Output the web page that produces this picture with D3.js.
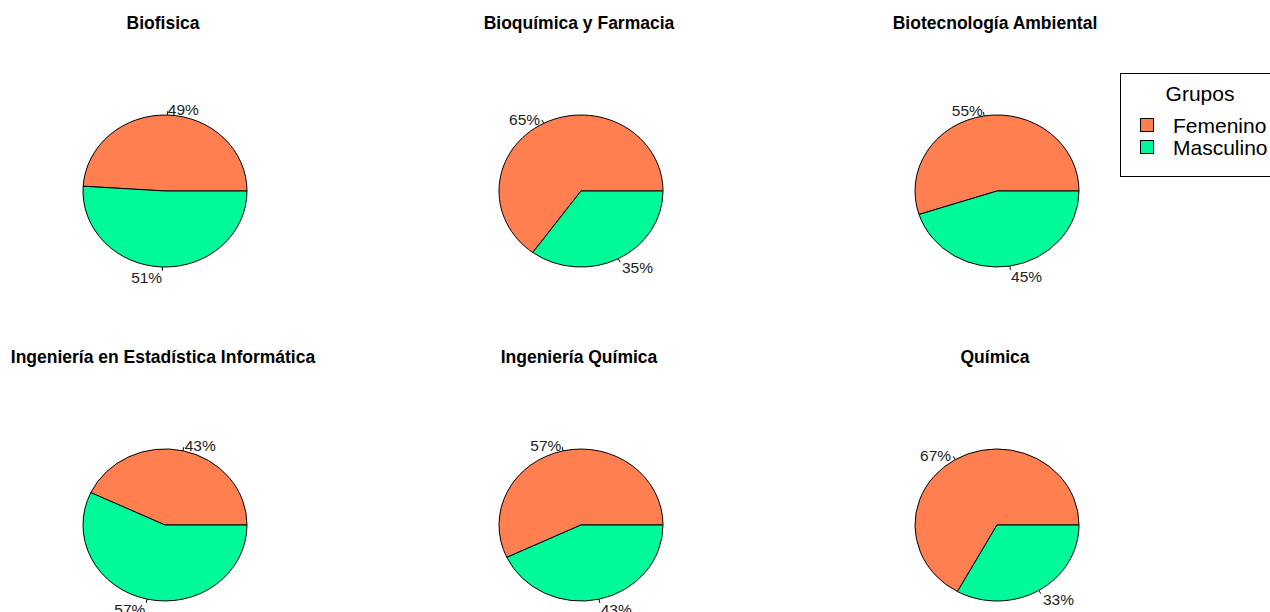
<!DOCTYPE html>
<html><head><meta charset="utf-8">
<script src="https://cdn.jsdelivr.net/npm/d3@7"></script>
<style>body{margin:0;background:#fff}svg{display:block}</style>
</head><body>
<script>
const carreras = ["Biofisica","Bioquímica y Farmacia","Biotecnología Ambiental","Ingeniería en Estadística Informática","Ingeniería Química","Química"];
const grupos = ["Femenino","Masculino"];
const femenino = [49,65,55,43,57,67];
const masculino = [51,35,45,57,43,33];
const colores = ["#FF7F50","#00FA9A"];

const W=1270,H=612;
const svg=d3.select("body").append("svg").attr("width",W).attr("height",H);
const font="Liberation Sans, Arial, sans-serif";
const colX=d3.scaleLinear().domain([0,2]).range([165,997]);
const rowY=d3.scaleLinear().domain([0,1]).range([191,525]);
const rx=82, ry=76;
const color=d3.scaleOrdinal().domain(grupos).range(colores);
const pie=d3.pie().sort(null).value(d=>d.v).startAngle(Math.PI/2).endAngle(Math.PI/2-2*Math.PI);
const arc=d3.arc().innerRadius(0).outerRadius(1);

carreras.forEach((c,i)=>{
  const cx=colX(i%3), cy=rowY(Math.floor(i/3));
  const g=svg.append("g");
  g.append("text").attr("x",cx-2).attr("y",cy-162).attr("text-anchor","middle")
    .attr("font-family",font).attr("font-weight","bold").attr("font-size",17.5).attr("fill","#000").text(c);
  const data=[{k:grupos[0],v:femenino[i]},{k:grupos[1],v:masculino[i]}];
  const arcs=pie(data);
  const pg=g.append("g").attr("transform",`translate(${cx},${cy}) scale(${rx},${ry})`);
  pg.selectAll("path").data(arcs).join("path").attr("d",arc)
    .attr("fill",d=>color(d.data.k)).attr("stroke","#000").attr("stroke-width",1)
    .attr("vector-effect","non-scaling-stroke");
  arcs.forEach(a=>{
    const m=(a.startAngle+a.endAngle)/2;
    const sx=Math.sin(m), sy=-Math.cos(m);
    g.append("line").attr("x1",cx+sx*rx).attr("y1",cy+sy*ry).attr("x2",cx+sx*rx*1.05).attr("y2",cy+sy*ry*1.05)
      .attr("stroke","#000").attr("stroke-width",1);
    g.append("text").attr("x",cx+sx*rx*1.1).attr("y",cy+sy*ry*1.1+2.5)
      .attr("text-anchor",sx>=0?"start":"end").attr("dominant-baseline","central")
      .attr("font-family",font).attr("font-size",15.5).attr("fill","#222")
      .text(a.data.v+"%");
  });
});

// legend
const lg=svg.append("g");
lg.append("rect").attr("x",1120.5).attr("y",73.5).attr("width",170).attr("height",103).attr("fill","#fff").attr("stroke","#000");
lg.append("text").attr("x",1200).attr("y",101).attr("text-anchor","middle").attr("font-family",font).attr("font-size",21).text("Grupos");
grupos.forEach((gname,j)=>{
  const y=118+j*22;
  lg.append("rect").attr("x",1140.5).attr("y",y+0.5).attr("width",13).attr("height",13).attr("fill",color(gname)).attr("stroke","#000");
  lg.append("text").attr("x",1173).attr("y",y+15).attr("font-family",font).attr("font-size",21).text(gname);
});
</script>
</body></html>
